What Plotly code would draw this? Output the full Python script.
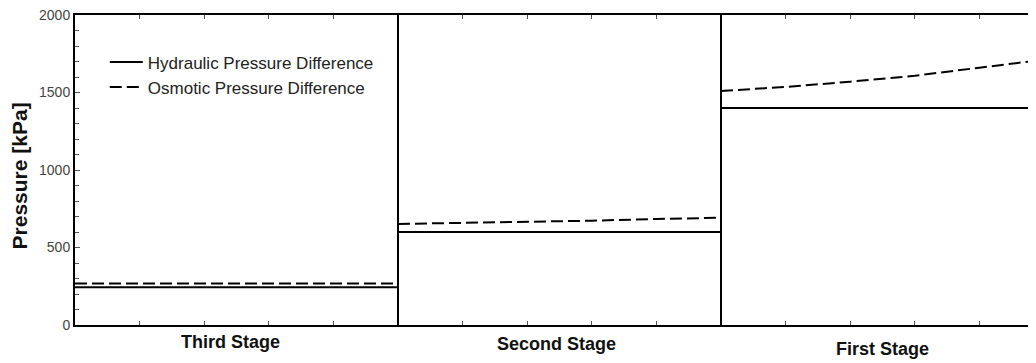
import plotly.graph_objects as go

# ---- data ----
stages = ["Third Stage", "Second Stage", "First Stage"]
local_x = [0.0, 0.2, 0.4, 0.6, 0.8, 1.0]

hydraulic_third = [243, 243, 243, 243, 243, 243]
osmotic_third = [268, 268, 268, 268, 268, 268]

hydraulic_second = [600, 600, 600, 600, 600, 600]
osmotic_second = [652, 658, 665, 673, 684, 692]

hydraulic_first = [1400, 1400, 1400, 1400, 1400, 1400]
osmotic_first = [1510, 1536, 1570, 1608, 1660, 1712]

y_major = [0, 500, 1000, 1500, 2000]

hydraulic = [hydraulic_third, hydraulic_second, hydraulic_first]
osmotic = [osmotic_third, osmotic_second, osmotic_first]

fig = go.Figure()
for i, name in enumerate(stages):
    xs = [v + i for v in local_x]
    fig.add_trace(go.Scatter(
        x=xs, y=hydraulic[i], mode="lines",
        line=dict(color="black", width=2),
        name="Hydraulic Pressure Difference", legendgroup="h",
        showlegend=(i == 0)))
    fig.add_trace(go.Scatter(
        x=xs, y=osmotic[i], mode="lines",
        line=dict(color="black", width=2, dash="12px,5px"),
        name="Osmotic Pressure Difference", legendgroup="o",
        showlegend=(i == 0)))

# panel dividers
for i in range(1, len(stages)):
    fig.add_shape(type="line", xref="x", yref="y", x0=i, x1=i, y0=0, y1=2000,
                  line=dict(color="black", width=2))

# stage labels
label_y = [-0.055, -0.062, -0.078]
label_dx = [-0.02, -0.01, 0.0]
for i, name in enumerate(stages):
    fig.add_annotation(x=i + 0.5 + label_dx[i], y=label_y[i], xref="x", yref="paper",
                       text="<b>%s</b>" % name, showarrow=False,
                       font=dict(family="Arial, Liberation Sans", size=18, color="#111"),
                       yanchor="middle")

# y-axis title
fig.add_annotation(x=-0.058, y=0.48, xref="paper", yref="paper",
                   text="<b>Pressure [kPa]</b>", showarrow=False, textangle=-90,
                   font=dict(family="Arial, Liberation Sans", size=21, color="#111"),
                   xanchor="center", yanchor="middle")

x_ticks = [i + f for i in range(3) for f in (0.2, 0.4, 0.6, 0.8)]

fig.update_xaxes(
    range=[0, 961 / 323], showgrid=False, zeroline=False,
    showline=True, linecolor="black", linewidth=2, mirror="ticks",
    tickvals=x_ticks, ticks="inside", ticklen=4, tickcolor="#555", tickwidth=1,
    showticklabels=False)

fig.update_yaxes(
    range=[0, 2000], showgrid=False, zeroline=False,
    showline=True, linecolor="black", linewidth=2, mirror=False,
    tickvals=y_major, ticks="inside", ticklen=5, tickcolor="#555", tickwidth=1,
    ticklabeloverflow="allow",
    tickfont=dict(family="Arial, Liberation Sans", size=14, color="#444"),
    minor=dict(dtick=100, ticks="inside", ticklen=4, tickcolor="#555", tickwidth=1))

fig.update_layout(
    width=1028, height=355,
    margin=dict(l=67, r=0, t=7, b=38, autoexpand=False),
    plot_bgcolor="white", paper_bgcolor="white",
    legend=dict(x=0.031, y=0.905, xanchor="left", yanchor="top",
                bgcolor="rgba(0,0,0,0)", borderwidth=0,
                font=dict(family="Arial, Liberation Sans", size=17, color="#222"),
                tracegroupgap=0, itemwidth=33),
)

fig.write_html("out.html")
